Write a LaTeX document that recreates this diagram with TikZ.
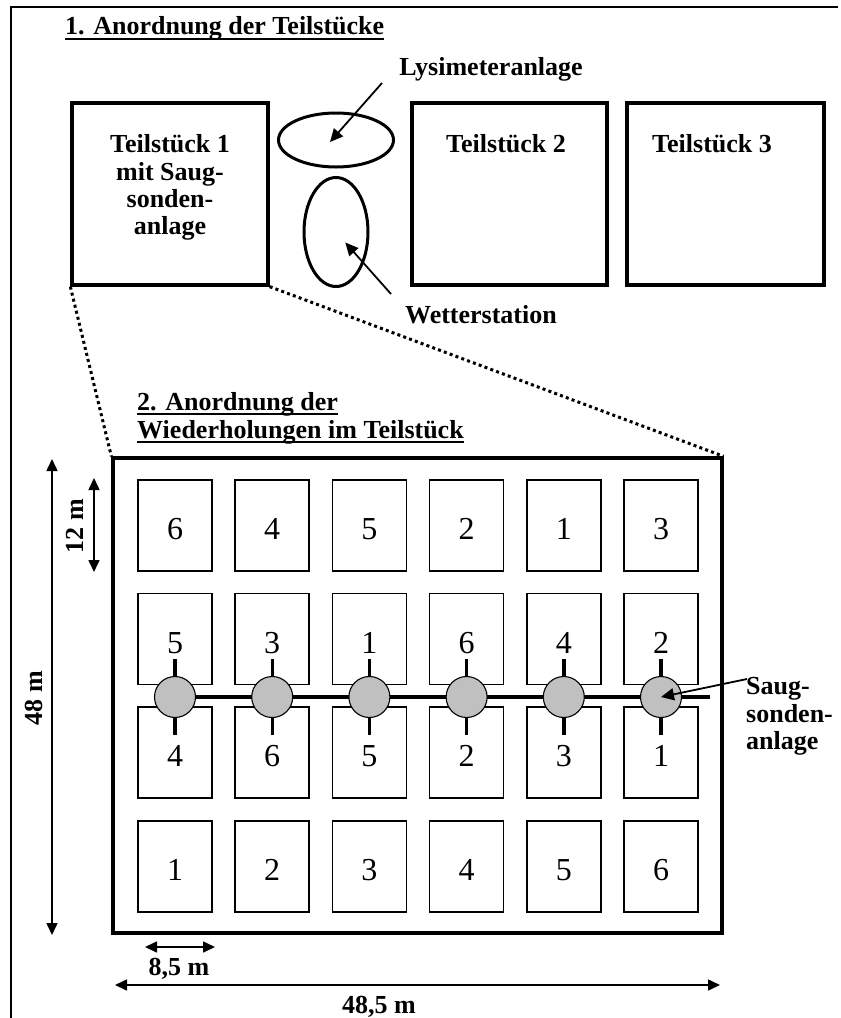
\documentclass[tikz,border=0pt]{standalone}
\usepackage{fontspec}
\setmainfont{Liberation Serif}
\usetikzlibrary{arrows.meta,shapes.geometric,backgrounds,positioning}
\definecolor{sondengrau}{RGB}{192,192,192}

\begin{document}
\begin{tikzpicture}[
    x=1pt, y=-1pt,
    teil/.style={draw, line width=3.3pt, minimum width=196pt, minimum height=182pt},
    parzelle/.style={draw, line width=1.5pt, minimum width=74pt, minimum height=91pt,
        font=\fontsize{32}{32}\selectfont, text height=28pt, text depth=0pt},
    sonde/.style={draw, circle, fill=sondengrau, line width=1.1pt, minimum size=41pt, inner sep=0pt},
    beschr/.style={font=\bfseries\fontsize{26}{27.3}\selectfont, inner sep=0pt},
    pfeil/.style={line width=1.8pt, -{Triangle[width=12pt,length=13pt]}},
    masspfeil/.style={line width=1.6pt, {Triangle[width=11pt,length=12pt]}-{Triangle[width=11pt,length=12pt]}},
    zoomlinie/.style={line width=3pt, dash pattern=on 3pt off 3.2pt},
    unterstrich/.style={line width=2pt}
]
\useasboundingbox (0,0) rectangle (841,1018);
\draw[line width=1.4pt] (838,7) -- (11,7) -- (11,1018);

% 1. Teilstuecke
\node[beschr, anchor=base west] (titel1) at (65,34) {1. Anordnung der Teilstücke};
\draw[unterstrich] ([yshift=-4.5pt]titel1.base west) -- ([yshift=-4.5pt]titel1.base east);

\node[teil] (teil1) at (170,194) {};
\node[teil, minimum width=195pt] (teil2) at (509.5,194) {};
\node[teil, minimum width=197pt] (teil3) at (725.5,194) {};
\node[beschr, anchor=north, align=center] (teil1text) at (170,134.5) {Teilstück 1\\mit Saug-\\sonden-\\anlage};
\node[beschr, anchor=base] (teil2text) at (506,152) {Teilstück 2};
\node[beschr, anchor=base] (teil3text) at (712,152) {Teilstück 3};

\node[draw, ellipse, line width=3pt, minimum width=115pt, minimum height=54pt] (lysim) at (336,140) {};
\node[draw, ellipse, line width=3pt, minimum width=64pt, minimum height=109pt] (wetter) at (336,232) {};
\node[beschr, anchor=base] (lysitext) at (491,75) {Lysimeteranlage};
\node[beschr, anchor=base] (wettertext) at (481,323) {Wetterstation};
\coordinate (lysiende) at (382,83);
\coordinate (wetterende) at (391,294);
\draw[pfeil] (lysiende) -- ([shift={(-6,2)}]lysim.center);
\draw[pfeil, shorten >=14pt] (wetterende) -- (wetter.center);

% 2. Wiederholungen
\node[beschr, anchor=base west] (titel2a) at (137,410) {2. Anordnung der};
\node[beschr, anchor=base west] (titel2b) at (137,438) {Wiederholungen im Teilstück};
\draw[unterstrich] ([yshift=-4pt]titel2a.base west) -- ([yshift=-4pt]titel2a.base east);
\draw[unterstrich] ([yshift=-4pt]titel2b.base west) -- ([yshift=-4pt]titel2b.base east);

\node[draw, line width=3.3pt, minimum width=609pt, minimum height=475pt] (feld) at (417.5,695.5) {};
\draw[zoomlinie] (teil1.south west) -- (feld.north west);
\draw[zoomlinie] (teil1.south east) -- (feld.north east);

\foreach \zeile/\werte in {1/{6,4,5,2,1,3}, 2/{5,3,1,6,4,2}, 3/{4,6,5,2,3,1}, 4/{1,2,3,4,5,6}} {
    \foreach \w [count=\sp] in \werte {
        \node[parzelle] (p\zeile\sp) at ({175+97.2*(\sp-1)}, {525.5+113.6*(\zeile-1)}) {\w};
    }
}

\foreach \sp in {1,...,6}
    \node[sonde] (s\sp) at ({175+97.2*(\sp-1)}, 697) {};
\coordinate (leitende) at (710,697);
\begin{scope}[on background layer]
    \draw[line width=3.4pt] (s1.center) -- (leitende);
    \foreach \sp in {1,...,6}
        \draw[line width=3.4pt] ([yshift=38pt]s\sp.center) -- ([yshift=-38pt]s\sp.center);
\end{scope}

\node[beschr, anchor=north west, align=left] (saugtext) at (746,677.5) {Saug-\\sonden-\\anlage};
\coordinate (saugende) at (747,679);
\draw[pfeil] (saugende) -- (s6.center);

% Masse
\coordinate (m48o) at (52,459);
\coordinate (m48u) at (52,935);
\coordinate (m12o) at (94,478);
\coordinate (m12u) at (94,572);
\coordinate (m85l) at (145,947);
\coordinate (m85r) at (215,947);
\coordinate (m485l) at (115,985);
\coordinate (m485r) at (720,985);
\draw[masspfeil] (m48o) -- (m48u);
\draw[masspfeil] (m12o) -- (m12u);
\draw[masspfeil] (m85l) -- (m85r);
\draw[masspfeil] (m485l) -- (m485r);
\node[beschr, rotate=90] (m48text) at (34,698) {48 m};
\node[beschr, rotate=90] (m12text) at (75,526) {12 m};
\node[beschr, anchor=base] (m85text) at (179,975) {8,5 m};
\node[beschr, anchor=base] (m485text) at (379,1013) {48,5 m};
\end{tikzpicture}
\end{document}
